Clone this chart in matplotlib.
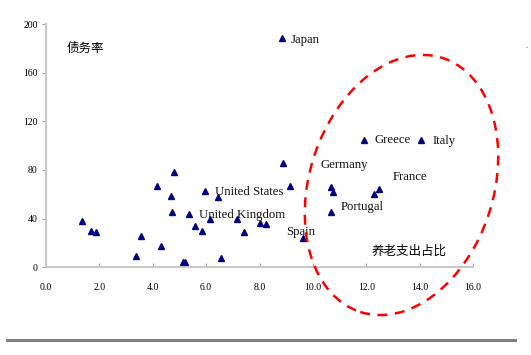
import matplotlib
matplotlib.use("Agg")
import matplotlib.pyplot as plt
from matplotlib.patches import Ellipse
from matplotlib.lines import Line2D
from matplotlib.transforms import IdentityTransform

plt.rcParams['font.family'] = ['Liberation Serif', 'Noto Sans CJK SC']

# pension spending share (x) vs debt ratio (y)
pension = [1.35, 1.68, 1.89, 3.36, 3.57, 4.17, 4.30, 4.70, 4.81, 4.74, 5.13, 5.22,
           5.37, 5.57, 5.85, 5.97, 6.14, 6.46, 6.54, 7.17, 7.43, 8.02, 8.25,
           8.84, 8.87, 9.15, 9.62, 10.67, 10.69, 10.75, 11.92, 12.29, 12.49, 14.07]
debt = [37.8, 29.8, 29.0, 9.3, 25.7, 66.8, 17.5, 58.6, 78.0, 45.2, 4.1, 4.1,
        44.0, 33.7, 29.8, 62.7, 40.0, 57.5, 7.4, 40.0, 29.0, 36.7, 35.3,
        188.7, 85.5, 67.0, 23.8, 45.4, 66.3, 62.2, 104.7, 60.0, 64.6, 104.7]

# country labels and where they sit (data coords, left edge of text)
labels = ["Japan", "United States", "United Kingdom", "Spain", "Greece", "Italy",
          "Germany", "France", "Portugal"]
label_x = [9.15, 6.34, 5.75, 8.99, 12.3, 14.47, 10.28, 12.98, 11.05]
label_y = [187, 62, 43, 29, 104.5, 103.7, 84.5, 74, 49.5]

xticks = [0, 2, 4, 6, 8, 10, 12, 14, 16]
yticks = [0, 40, 80, 120, 160, 200]

fig = plt.figure(figsize=(5.31, 3.55), dpi=100)
ax = fig.add_axes([46 / 531, (355 - 267.3) / 355, (473 - 46) / 531, (267.3 - 24) / 355])

ax.plot(pension, debt, linestyle="none", marker="^", markersize=5,
        color="#000080", clip_on=False)

for name, lx, ly in zip(labels, label_x, label_y):
    ax.text(lx, ly, name, fontsize=9.2, ha="left", va="center", color="#111111")

ax.text(0.049, 0.9, "债务率", transform=ax.transAxes, fontsize=9,
        family="Noto Sans CJK SC", va="center")
ax.text(0.762, 0.065, "养老支出占比", transform=ax.transAxes, fontsize=9,
        family="Noto Sans CJK SC", va="center")

ax.set_xlim(0, 16)
ax.set_ylim(0, 200)
ax.set_xticks(xticks)
ax.set_xticklabels([f"{t:.1f}" for t in xticks])
ax.set_yticks(yticks)
ax.tick_params(axis="x", direction="in", length=3, pad=11, labelsize=7, color="#a0a0a0")
ax.tick_params(axis="y", direction="out", length=3, pad=3, labelsize=7, color="#a0a0a0")
for s in ["top", "right"]:
    ax.spines[s].set_visible(False)
for s in ["left", "bottom"]:
    ax.spines[s].set_color("#c8c8c8")
    ax.spines[s].set_linewidth(1.5)

# red dashed ellipse around the high-spending group (pixel coords)
ell = Ellipse((401.5, 355 - 185), width=184, height=267, angle=-18,
              transform=IdentityTransform(), fill=False, edgecolor="red",
              linestyle=(0, (4, 3)), linewidth=1.8, clip_on=False)
fig.patches.append(ell)

# gray rule under the chart
fig.add_artist(Line2D([7 / 531, 515 / 531], [1 - 340 / 355, 1 - 340 / 355],
                      color="#808080", linewidth=2.2, transform=fig.transFigure))
fig.text(527 / 531, 1 - 47 / 355, "..", fontsize=5, ha="center", va="center", color="#555555")

fig.savefig("out.png", dpi=100)
